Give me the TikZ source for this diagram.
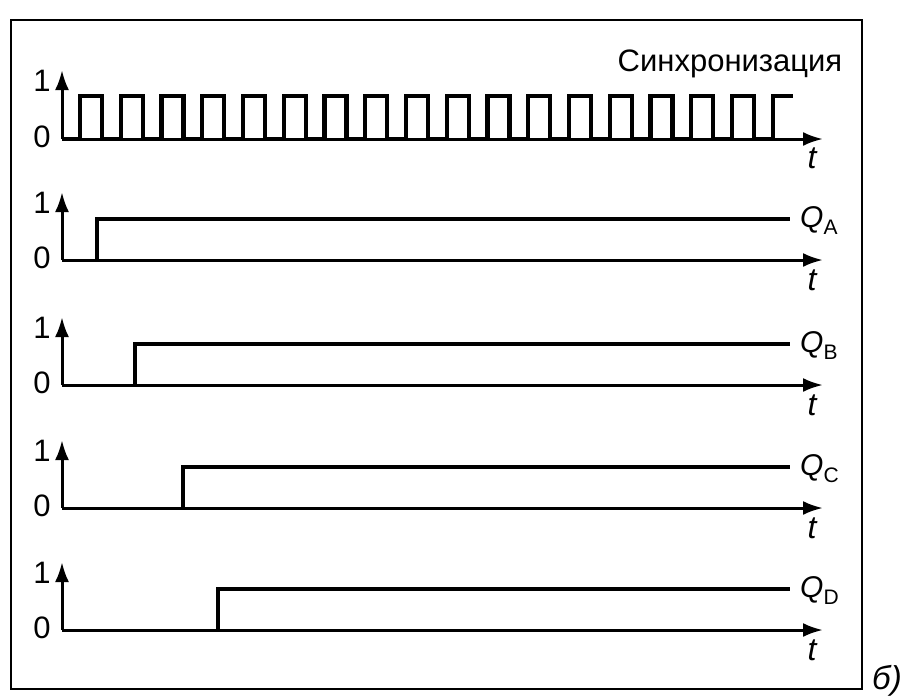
\documentclass[tikz,border=0pt]{standalone}
\usepackage{fontspec}
\setmainfont{Liberation Sans}
\usetikzlibrary{arrows.meta}
\begin{document}
\begin{tikzpicture}[x=1pt,y=-1pt,
  axisline/.style={line width=3pt,-{Latex[length=20pt,width=14pt]}},
  sigline/.style={line width=4.2pt,line join=miter,line cap=butt},
  framebox/.style={line width=2.6pt},
  lvl/.style={font=\fontsize{31}{34}\selectfont,inner sep=0pt},
  tlab/.style={font=\fontsize{32}{34}\selectfont\itshape,inner sep=0pt,anchor=base},
  qlab/.style={font=\fontsize{30}{34}\selectfont,inner sep=0pt,anchor=base west},
  titlelab/.style={font=\fontsize{31}{34}\selectfont,inner sep=0pt,anchor=base}]
\useasboundingbox (0,0) rectangle (901,696);
\draw[framebox] (11,20) rectangle (862,689);
\node[font=\fontsize{33}{36}\selectfont\itshape,inner sep=0pt,anchor=base] (fig) at (887,689) {б)};

% clock panel
\coordinate (o0) at (62,139);
\coordinate (y0) at (62,70);
\coordinate (x0) at (823,139);
\draw[axisline] (o0) -- (y0);
\draw[axisline] (o0) -- (x0);
\node[lvl] (one0) at (42,81) {1};
\node[lvl] (zero0) at (42,137) {0};
\draw[sigline] (o0) foreach \k in {0,...,16} {
   -- ({80+40.75*\k},139) -- ({80+40.75*\k},96) -- ({102+40.75*\k},96) -- ({102+40.75*\k},139) }
   -- (773,139) -- (773,96) -- (793,96);
\node[tlab] (t0) at (812,168) {t};
\node[titlelab] (sync) at (730,71) {Синхронизация};

% Q panels
\foreach \i/\B/\r/\lab in {1/260/97/A,2/385/135/B,3/508/183/C,4/630/218/D}{
  \coordinate (o\i) at (62,\B);
  \coordinate (y\i) at (62,\B-68);
  \coordinate (x\i) at (823,\B);
  \coordinate (r\i) at (\r,\B);
  \coordinate (h\i) at (\r,\B-41);
  \coordinate (e\i) at (790,\B-41);
  \draw[axisline] (o\i) -- (y\i);
  \draw[axisline] (o\i) -- (x\i);
  \node[lvl] (one\i) at (42,\B-57) {1};
  \node[lvl] (zero\i) at (42,\B-2) {0};
  \draw[sigline] (r\i) -- (h\i) -- (e\i);
  \node[qlab] (q\i) at (800,\B-33) {\itshape Q\/\raisebox{-0.25em}{\upshape\fontsize{21}{24}\selectfont\lab}};
  \node[tlab] (t\i) at (812,\B+30) {t};
}
\end{tikzpicture}
\end{document}
